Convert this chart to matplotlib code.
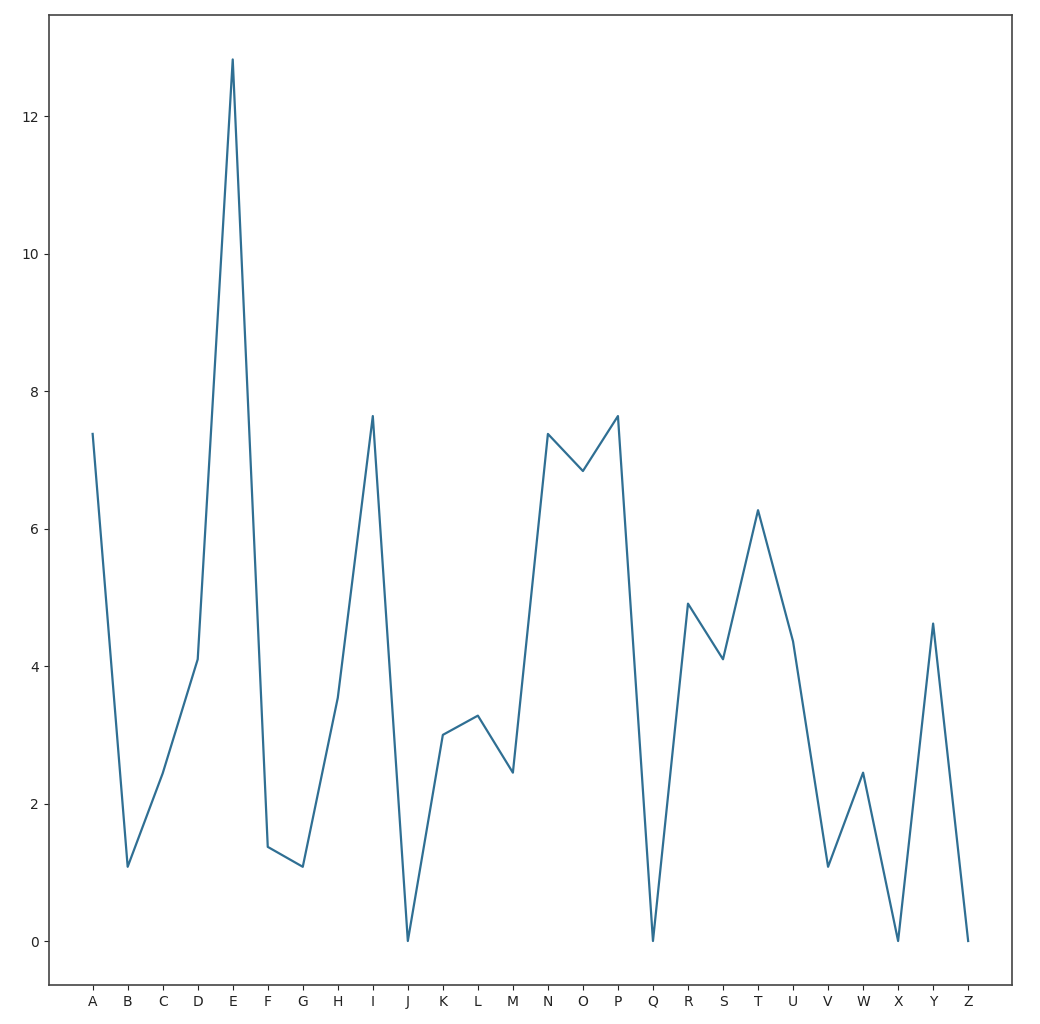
import matplotlib
matplotlib.use("Agg")
import matplotlib.pyplot as plt

letters = list("ABCDEFGHIJKLMNOPQRSTUVWXYZ")
values = [7.38, 1.08, 2.44, 4.10, 12.83, 1.37, 1.08, 3.54, 7.64, 0.0,
          3.00, 3.28, 2.45, 7.38, 6.84, 7.64, 0.0, 4.91, 4.10, 6.27,
          4.36, 1.08, 2.45, 0.0, 4.62, 0.0]

fig = plt.figure(figsize=(10.4, 10.24), dpi=100)
ax = fig.add_axes([0.047, 0.038, 0.926, 0.947])
ax.plot(letters, values, color="#2f6f93", linewidth=1.6)
ax.set_yticks([0, 2, 4, 6, 8, 10, 12])
for s in ax.spines.values():
    s.set_color("#444444")
    s.set_linewidth(1.2)
ax.tick_params(labelsize=10, colors="#222222")
fig.savefig("out.png", dpi=100)
